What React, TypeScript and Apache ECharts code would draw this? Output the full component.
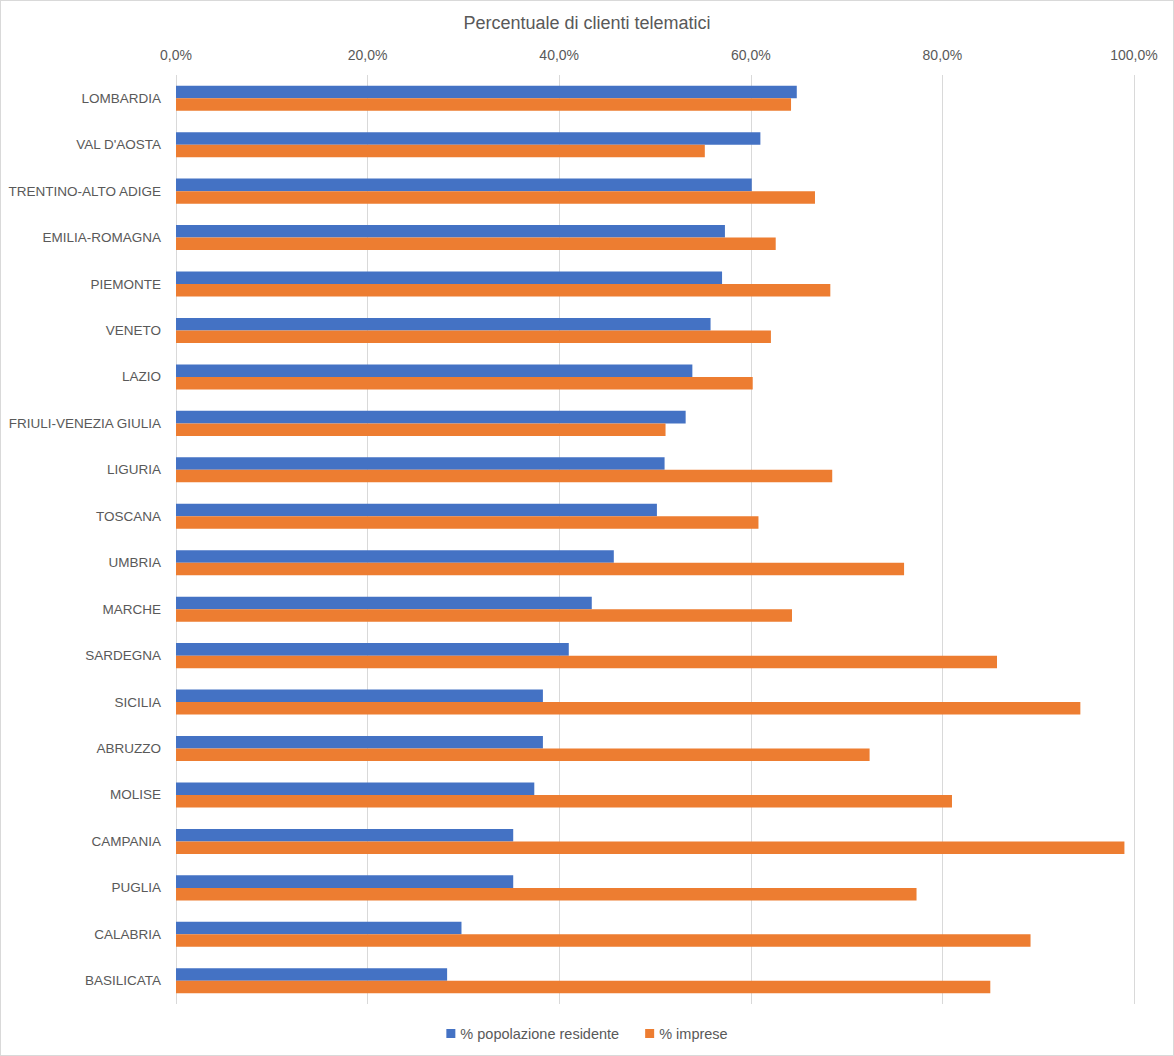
import React, { useEffect, useRef } from "react";
import * as echarts from "echarts";

const regions = [
  "LOMBARDIA",
  "VAL D'AOSTA",
  "TRENTINO-ALTO ADIGE",
  "EMILIA-ROMAGNA",
  "PIEMONTE",
  "VENETO",
  "LAZIO",
  "FRIULI-VENEZIA GIULIA",
  "LIGURIA",
  "TOSCANA",
  "UMBRIA",
  "MARCHE",
  "SARDEGNA",
  "SICILIA",
  "ABRUZZO",
  "MOLISE",
  "CAMPANIA",
  "PUGLIA",
  "CALABRIA",
  "BASILICATA",
];

const popolazione = [64.8, 61.0, 60.1, 57.3, 57.0, 55.8, 53.9, 53.2, 51.0, 50.2, 45.7, 43.4, 41.0, 38.3, 38.3, 37.4, 35.2, 35.2, 29.8, 28.3];
const imprese = [64.2, 55.2, 66.7, 62.6, 68.3, 62.1, 60.2, 51.1, 68.5, 60.8, 76.0, 64.3, 85.7, 94.4, 72.4, 81.0, 99.0, 77.3, 89.2, 85.0];

const seriesNames = ["% popolazione residente", "% imprese"];
const titleText = "Percentuale di clienti telematici";

const FONT = "Liberation Sans";
const TEXT = "#595959";

export default function App() {
  const ref = useRef<HTMLDivElement>(null);
  useEffect(() => {
    if (!ref.current) return;
    const chart = echarts.init(ref.current, undefined, { renderer: "svg" });
    chart.setOption({
      animation: false,
      backgroundColor: "#ffffff",
      textStyle: { fontFamily: FONT },
      title: {
        text: titleText,
        left: "center",
        top: 8,
        textStyle: { fontFamily: FONT, fontSize: 18, fontWeight: "normal", color: TEXT },
      },
      legend: {
        bottom: 9,
        left: "center",
        itemWidth: 9,
        itemHeight: 9,
        itemGap: 26,
        icon: "rect",
        textStyle: { fontFamily: FONT, fontSize: 14.5, color: TEXT },
        data: seriesNames,
      },
      grid: { left: 175, right: 39, top: 74, bottom: 51, containLabel: false },
      xAxis: {
        type: "value",
        position: "top",
        min: 0,
        max: 100,
        interval: 20,
        axisLine: { show: false },
        axisTick: { show: false },
        splitLine: { show: true, lineStyle: { color: "#d9d9d9", width: 1 } },
        axisLabel: {
          margin: 13,
          fontFamily: FONT,
          fontSize: 14,
          color: TEXT,
          formatter: (v: number) => v.toFixed(1).replace(".", ",") + "%",
        },
      },
      yAxis: {
        type: "category",
        inverse: true,
        data: regions,
        axisLine: { show: false },
        axisTick: { show: false },
        axisLabel: { margin: 15, fontFamily: FONT, fontSize: 13.5, color: TEXT },
      },
      series: [
        {
          name: seriesNames[0],
          type: "bar",
          data: popolazione,
          itemStyle: { color: "#4472C4" },
          barGap: "0%",
          barCategoryGap: "46%",
        },
        {
          name: seriesNames[1],
          type: "bar",
          data: imprese,
          itemStyle: { color: "#ED7D31" },
          barGap: "0%",
          barCategoryGap: "46%",
        },
      ],
    });
    return () => chart.dispose();
  }, []);
  return (
    <div
      ref={ref}
      style={{
        position: "fixed",
        left: 0,
        top: 0,
        width: 1174,
        height: 1056,
        boxSizing: "border-box",
        border: "1px solid #d9d9d9",
      }}
    />
  );
}
